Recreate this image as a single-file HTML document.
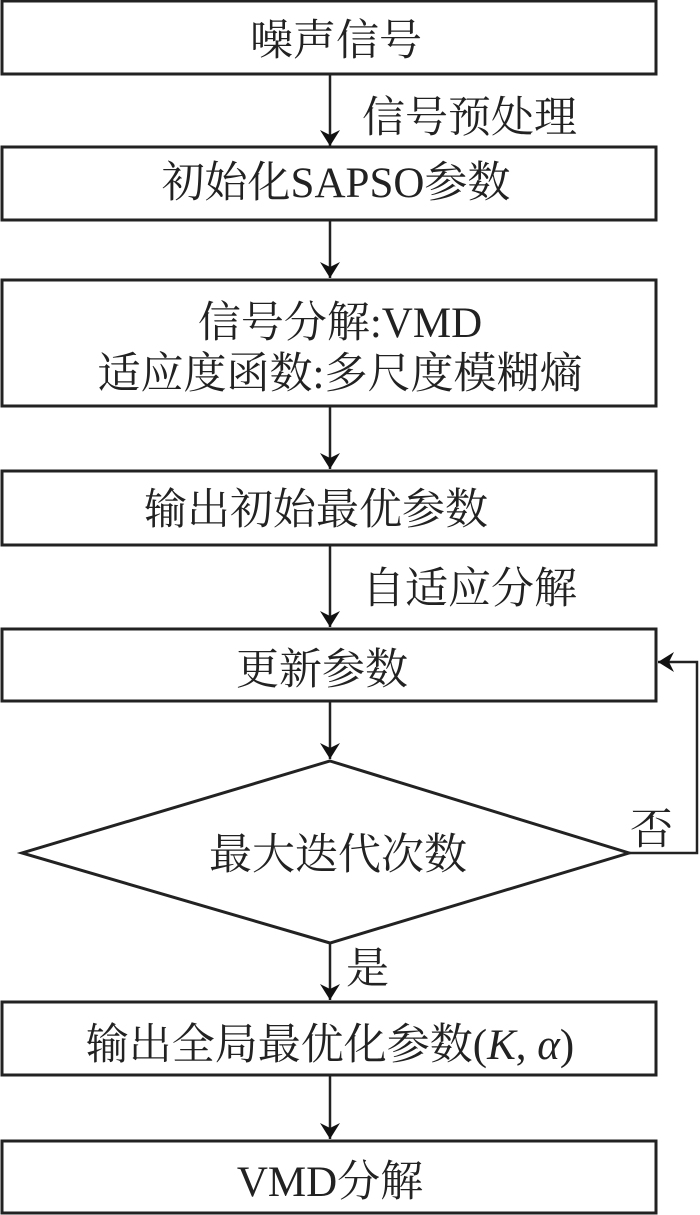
<!DOCTYPE html>
<html><head><meta charset="utf-8"><style>
html,body{margin:0;padding:0;background:#fff;width:700px;height:1215px;overflow:hidden}
svg text{font-family:"Liberation Serif","Noto Serif CJK SC","Noto Sans CJK SC",serif;font-size:43px;fill:#222}
</style></head><body>
<svg width="700" height="1215" viewBox="0 0 700 1215" xmlns="http://www.w3.org/2000/svg">
<defs><marker id="b" markerWidth="16" markerHeight="20" refX="16" refY="10" orient="auto" markerUnits="userSpaceOnUse"><path d="M0,0 L16,10 L0,20 L5,10 Z" fill="#111"/></marker></defs>
<g fill="none" stroke="#222" stroke-width="3">
<rect x="2" y="1" width="654" height="73"/>
<rect x="2" y="147" width="654" height="73"/>
<rect x="2" y="280" width="654" height="126"/>
<rect x="2" y="471" width="654" height="74"/>
<rect x="2" y="629" width="654" height="72"/>
<polygon points="330,761 629,853 330,943 22,853"/>
<rect x="2" y="1002" width="654" height="73"/>
<rect x="2" y="1141" width="654" height="72"/>
<g stroke-width="2.5">
<line x1="330" y1="74" x2="330" y2="146" marker-end="url(#b)"/>
<line x1="330" y1="220" x2="330" y2="278" marker-end="url(#b)"/>
<line x1="330" y1="406" x2="330" y2="469" marker-end="url(#b)"/>
<line x1="330" y1="545" x2="330" y2="627" marker-end="url(#b)"/>
<line x1="330" y1="701" x2="330" y2="759" marker-end="url(#b)"/>
<line x1="330" y1="943" x2="330" y2="1000" marker-end="url(#b)"/>
<line x1="330" y1="1075" x2="330" y2="1139" marker-end="url(#b)"/>
<polyline points="629,853 697,853 697,662 658,662" marker-end="url(#b)"/>
</g></g>
<g text-anchor="middle">
<text x="336" y="55">噪声信号</text>
<text x="336" y="197">初始化SAPSO参数</text>
<text x="340" y="337">信号分解:VMD</text>
<text x="340" y="388">适应度函数:多尺度模糊熵</text>
<text x="316" y="524">输出初始最优参数</text>
<text x="322" y="684">更新参数</text>
<text x="338" y="869">最大迭代次数</text>
<text x="330" y="1059">输出全局最优化参数(<tspan font-style="italic">K</tspan>, <tspan font-style="italic">α</tspan>)</text>
<text x="330" y="1196">VMD分解</text>
</g>
<text x="362" y="132">信号预处理</text>
<text x="362" y="603">自适应分解</text>
<text x="630" y="844">否</text>
<text x="346" y="983">是</text>
</svg>
</body></html>
